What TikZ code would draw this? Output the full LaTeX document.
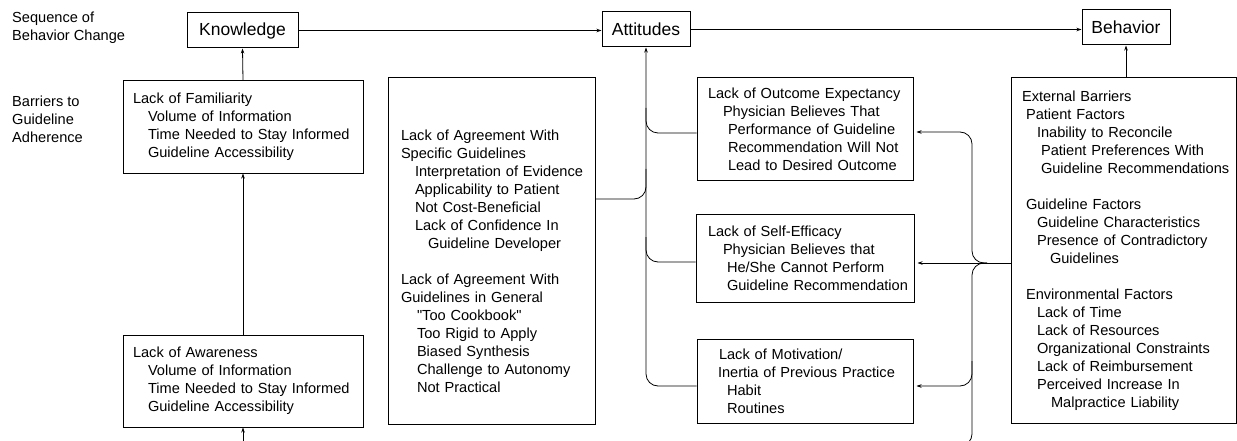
\documentclass[tikz,border=0pt]{standalone}
\usepackage{fontspec}
\setmainfont{Liberation Sans}[Ligatures=TeXOff]
\usetikzlibrary{arrows.meta}

\newcommand{\ind}[1]{\hspace*{#1pt}}

\tikzset{
  stage/.style={draw, line width=1pt, inner sep=0pt, font=\fontsize{17.5}{20}\selectfont},
  barrier/.style={draw, line width=1pt, inner xsep=4pt, inner ysep=0pt, align=left, font=\fontsize{14.6}{18}\selectfont},
  sidelabel/.style={anchor=west, align=left, inner sep=0pt, font=\fontsize{14.6}{18}\selectfont},
  link/.style={line width=0.8pt},
  tolink/.style={link, -{Stealth[length=5pt,width=3.5pt]}},
  gap/.style={shorten >=3pt},
}

\begin{document}
\begin{tikzpicture}[x=1pt,y=-1pt]
\useasboundingbox (0,0) rectangle (1237,441);

% row labels
\node[sidelabel] (seqlabel) at (12,28) {Sequence of\\Behavior Change};
\node[sidelabel] (barlabel) at (12,119) {Barriers to\\Guideline\\Adherence};

% sequence of behavior change
\node[stage, minimum width=111pt, minimum height=35pt] (know) at (242.5,30.5) {Knowledge};
\node[stage, minimum width=88pt, minimum height=35pt] (att) at (646,29.5) {Attitudes};
\node[stage, minimum width=88pt, minimum height=35pt] (beh) at (1126,27.5) {Behavior};

% barriers: knowledge
\node[barrier, text width=232pt, minimum height=92pt] (fam) at (243,127)
  {\ind{6}Lack of Familiarity\\
   \ind{21}Volume of Information\\
   \ind{21}Time Needed to Stay Informed\\
   \ind{21}Guideline Accessibility};
\node[barrier, text width=232pt, minimum height=92pt] (aware) at (243,381)
  {\ind{6}Lack of Awareness\\
   \ind{21}Volume of Information\\
   \ind{21}Time Needed to Stay Informed\\
   \ind{21}Guideline Accessibility};

% barriers: attitudes
\node[barrier, text width=199pt, minimum height=346pt] (agree) at (491.5,251)
  {\mbox{}\\[14pt]
   \ind{9}Lack of Agreement With\\
   \ind{9}Specific Guidelines\\
   \ind{23}Interpretation of Evidence\\
   \ind{23}Applicability to Patient\\
   \ind{23}Not Cost-Beneficial\\
   \ind{23}Lack of Confidence In\\
   \ind{36}Guideline Developer\\[18pt]
   \ind{9}Lack of Agreement With\\
   \ind{9}Guidelines in General\\
   \ind{25}"Too Cookbook"\\
   \ind{25}Too Rigid to Apply\\
   \ind{25}Biased Synthesis\\
   \ind{25}Challenge to Autonomy\\
   \ind{25}Not Practical};
\node[barrier, text width=208pt, minimum height=102pt] (oc) at (805,129)
  {\ind{7}Lack of Outcome Expectancy\\
   \ind{22}Physician Believes That\\
   \ind{27}Performance of Guideline\\
   \ind{27}Recommendation Will Not\\
   \ind{27}Lead to Desired Outcome};
\node[barrier, text width=210pt, minimum height=88pt] (se) at (805,258)
  {\ind{8}Lack of Self-Efficacy\\
   \ind{23}Physician Believes that\\
   \ind{27}He/She Cannot Perform\\
   \ind{27}Guideline Recommendation};
\node[barrier, text width=208pt, minimum height=84pt] (mot) at (805,381)
  {\ind{18}Lack of Motivation/\\
   \ind{17}Inertia of Previous Practice\\
   \ind{26}Habit\\
   \ind{26}Routines};

% barriers: behavior
\node[barrier, text width=217pt, minimum height=345pt] (ext) at (1123.5,250.5)
  {\ind{7}External Barriers\\
   \ind{11}Patient Factors\\
   \ind{22}Inability to Reconcile\\
   \ind{26}Patient Preferences With\\
   \ind{26}Guideline Recommendations\\[18pt]
   \ind{11}Guideline Factors\\
   \ind{22}Guideline Characteristics\\
   \ind{22}Presence of Contradictory\\
   \ind{35}Guidelines\\[18pt]
   \ind{11}Environmental Factors\\
   \ind{22}Lack of Time\\
   \ind{22}Lack of Resources\\
   \ind{22}Organizational Constraints\\
   \ind{22}Lack of Reimbursement\\
   \ind{22}Perceived Increase In\\
   \ind{36}Malpractice Liability};

% sequence arrows
\draw[tolink] (know.east) -- (know.east -| att.west);
\draw[tolink] (att.east) -- (att.east -| beh.west);

% knowledge column
\coordinate (below) at (243,452);
\draw[tolink] (below) -- (aware.south);
\draw[tolink] (aware.north) -- (fam.south);
\draw[tolink] (fam.north) -- (know.south);

% attitudes trunk
\coordinate (trunk) at (646,386);
\coordinate (agreejoin) at (646,199);
\coordinate (ocjoin) at (646,133);
\coordinate (sejoin) at (646,262);
\draw[tolink, rounded corners=12pt] (mot.west |- trunk) -- (trunk) -- (att.south);
\draw[link, rounded corners=12pt] (agree.east |- agreejoin) -- (agreejoin) -- ([yshift=30pt]agreejoin);
\draw[link, rounded corners=12pt] ([yshift=25pt]ocjoin) -- (ocjoin) -- (oc.west |- ocjoin);
\draw[link, rounded corners=12pt] ([yshift=25pt]sejoin) -- (sejoin) -- (se.west |- sejoin);

% external barriers brace
\coordinate (fork) at (987,263);
\coordinate (bracemid) at (972,263);
\coordinate (bracetop) at (972,132);
\coordinate (bracebot) at (972,446);
\coordinate (braceend) at (955,446);
\coordinate (motturn) at (972,386);
\draw[tolink, gap] (ext.west |- fork) -- (se.east |- fork);
\draw[tolink, gap, rounded corners=12pt] (fork) -- (bracemid) -- (bracetop) -- (oc.east |- bracetop);
\draw[link, rounded corners=12pt] (fork) -- (bracemid) -- (bracebot) -- (braceend);
\draw[tolink, gap, rounded corners=12pt] ([yshift=25pt]motturn) -- (motturn) -- (mot.east |- motturn);
\draw[tolink] (beh.south |- ext.north) -- (beh.south);
\end{tikzpicture}
\end{document}
